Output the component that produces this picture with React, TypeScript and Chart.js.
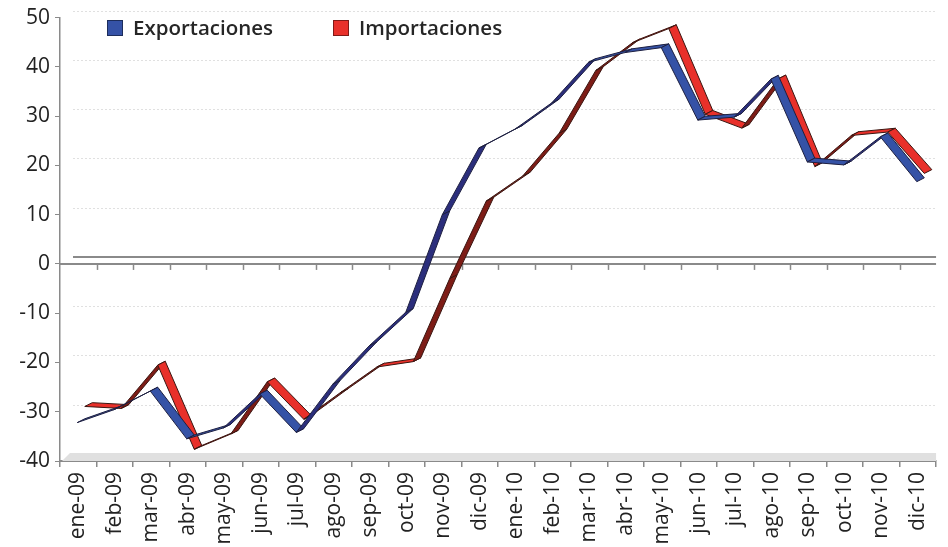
import React, { useEffect, useRef } from "react";
import { Chart, registerables } from "chart.js";

Chart.register(...registerables);

const categories = [
  "ene-09", "feb-09", "mar-09", "abr-09", "may-09", "jun-09", "jul-09", "ago-09",
  "sep-09", "oct-09", "nov-09", "dic-09", "ene-10", "feb-10", "mar-10", "abr-10",
  "may-10", "jun-10", "jul-10", "ago-10", "sep-10", "oct-10", "nov-10", "dic-10",
];

const exportaciones = [
  -32.1, -29.5, -25.7, -35.4, -33.2, -26.3, -34.1, -24.3,
  -16.5, -9.7, 10.1, 23.6, 27.5, 32.8, 41, 43,
  44, 29.3, 29.9, 37.6, 20.8, 20.2, 25.9, 16.8,
];

const importaciones = [
  -29.6, -30.0, -21.2, -38.3, -35.2, -24.6, -32.2, -26.8,
  -21.6, -20.5, -3.6, 12.1, 17.2, 25.9, 38.6, 44.2,
  47.1, 29.7, 26.9, 36.9, 19.1, 25.4, 26.1, 17.7,
];

const yTicks = [-40, -30, -20, -10, 0, 10, 20, 30, 40, 50];

const seriesLabels = ["Exportaciones", "Importaciones"];

const BACK = { x: 13, y: -7 };
const DEPTH = { x: 7.5, y: -3.8 };
const SERIES_OFFSETS = [
  { x: -1, y: 0.5 },
  { x: 6.5, y: -3.3 },
];
const FACE_COLORS = [
  { top: "#3552a6", under: "#2b2e7c", line: "#1d1f40" },
  { top: "#e8302a", under: "#7d1c16", line: "#3a1510" },
];

const sceneryPlugin = {
  id: "scenery",
  beforeDatasetsDraw(chart: any) {
    const { ctx, chartArea, scales } = chart;
    const ys = scales.y;
    const left = chartArea.left;
    const right = chartArea.right;
    const bottom = chartArea.bottom;
    ctx.save();
    // back-wall dotted gridlines
    ctx.strokeStyle = "rgba(0,0,0,0.12)";
    ctx.lineWidth = 1;
    ctx.setLineDash([2, 2]);
    yTicks.forEach((v) => {
      if (v === 0 || v === yTicks[0]) return;
      const y = Math.round(ys.getPixelForValue(v) + BACK.y) + 0.5;
      ctx.beginPath();
      ctx.moveTo(left + BACK.x, y);
      ctx.lineTo(right, y);
      ctx.stroke();
    });
    ctx.setLineDash([]);
    // floor
    ctx.fillStyle = "#e0e0e0";
    ctx.beginPath();
    ctx.moveTo(left + 2, bottom);
    ctx.lineTo(right, bottom);
    ctx.lineTo(right, bottom - 8);
    ctx.lineTo(left + 10, bottom - 8);
    ctx.closePath();
    ctx.fill();
    // zero plane lines
    const y0 = ys.getPixelForValue(0);
    ctx.strokeStyle = "#8a8a8a";
    ctx.lineWidth = 2;
    ctx.beginPath();
    ctx.moveTo(left, y0);
    ctx.lineTo(right, y0);
    ctx.stroke();
    ctx.beginPath();
    ctx.moveTo(left + BACK.x, y0 + BACK.y);
    ctx.lineTo(right, y0 + BACK.y);
    ctx.stroke();
    // ticks under the zero line at category boundaries
    const xs = scales.x;
    ctx.lineWidth = 1.5;
    for (let i = 1; i < categories.length; i++) {
      const x = Math.round((xs.getPixelForValue(i - 1) + xs.getPixelForValue(i)) / 2) + 0.5;
      ctx.beginPath();
      ctx.moveTo(x, y0);
      ctx.lineTo(x, y0 + 6);
      ctx.stroke();
    }
    ctx.restore();
  },
  afterDatasetsDraw(chart: any) {
    const { ctx } = chart;
    ctx.save();
    ctx.lineJoin = "round";
    for (let s = chart.data.datasets.length - 1; s >= 0; s--) {
      const meta = chart.getDatasetMeta(s);
      const o = SERIES_OFFSETS[s];
      const c = FACE_COLORS[s];
      const pts = meta.data.map((p: any) => ({ x: p.x + o.x, y: p.y + o.y }));
      for (let i = 0; i < pts.length - 1; i++) {
        const A = pts[i];
        const B = pts[i + 1];
        const sx = B.x - A.x;
        const sy = B.y - A.y;
        const cross = sx * DEPTH.y - sy * DEPTH.x;
        ctx.fillStyle = cross < 0 ? c.top : c.under;
        ctx.strokeStyle = c.line;
        ctx.lineWidth = 1;
        ctx.beginPath();
        ctx.moveTo(A.x, A.y);
        ctx.lineTo(B.x, B.y);
        ctx.lineTo(B.x + DEPTH.x, B.y + DEPTH.y);
        ctx.lineTo(A.x + DEPTH.x, A.y + DEPTH.y);
        ctx.closePath();
        ctx.fill();
        ctx.stroke();
      }
    }
    ctx.restore();
  },
  afterDraw(chart: any) {
    const { ctx } = chart;
    ctx.save();
    ctx.font = "600 20.5px 'Open Sans'";
    ctx.textBaseline = "middle";
    const items = [
      { x: 107, label: chart.data.datasets[0].label, color: chart.data.datasets[0].backgroundColor },
      { x: 333, label: chart.data.datasets[1].label, color: chart.data.datasets[1].backgroundColor },
    ];
    items.forEach((it) => {
      ctx.fillStyle = it.color;
      ctx.fillRect(it.x, 20, 16, 16);
      ctx.strokeStyle = "rgba(0,0,0,0.45)";
      ctx.lineWidth = 1;
      ctx.strokeRect(it.x + 0.5, 20.5, 15, 15);
      ctx.fillStyle = "#262626";
      ctx.fillText(it.label, it.x + 26, 29);
    });
    ctx.restore();
  },
};

export default function App() {
  const ref = useRef<HTMLCanvasElement | null>(null);
  useEffect(() => {
    if (!ref.current) return;
    const chart = new Chart(ref.current, {
      type: "line",
      data: {
        labels: categories,
        datasets: [
          {
            label: seriesLabels[0],
            data: exportaciones,
            backgroundColor: "#3552a6",
            borderColor: "#3552a6",
            showLine: false,
            pointRadius: 0,
          },
          {
            label: seriesLabels[1],
            data: importaciones,
            backgroundColor: "#e8302a",
            borderColor: "#e8302a",
            showLine: false,
            pointRadius: 0,
          },
        ],
      },
      options: {
        responsive: false,
        animation: false,
        devicePixelRatio: 1,
        layout: { padding: { top: 16, right: 0, left: 0, bottom: 0 } },
        plugins: { legend: { display: false }, tooltip: { enabled: false } },
        scales: {
          x: {
            offset: true,
            grid: { drawOnChartArea: false, offset: true, tickLength: 6, color: "#8a8a8a", lineWidth: 1.5 },
            border: { display: true, color: "#8a8a8a", width: 2 },
            ticks: {
              autoSkip: false,
              maxRotation: 90,
              minRotation: 90,
              padding: 5,
              color: "#222",
              font: { family: "'Open Sans'", size: 21 },
            },
            afterFit: (scale: any) => {
              scale.height = 86;
            },
          },
          y: {
            min: -40,
            max: 50,
            ticks: {
              stepSize: 10,
              padding: 5,
              color: "#222",
              font: { family: "'Open Sans'", size: 21 },
            },
            grid: { drawOnChartArea: false, tickLength: 5, color: "#8a8a8a" },
            border: { display: true, color: "#8a8a8a", width: 1.5 },
            afterFit: (scale: any) => {
              scale.width = 60;
            },
          },
        },
      },
      plugins: [sceneryPlugin],
    });
    return () => chart.destroy();
  }, []);
  return (
    <div style={{ position: "absolute", left: 0, top: 0, width: 948, height: 547, background: "#fff" }}>
      <canvas ref={ref} width={948} height={547} style={{ width: 948, height: 547, display: "block" }} />
    </div>
  );
}
